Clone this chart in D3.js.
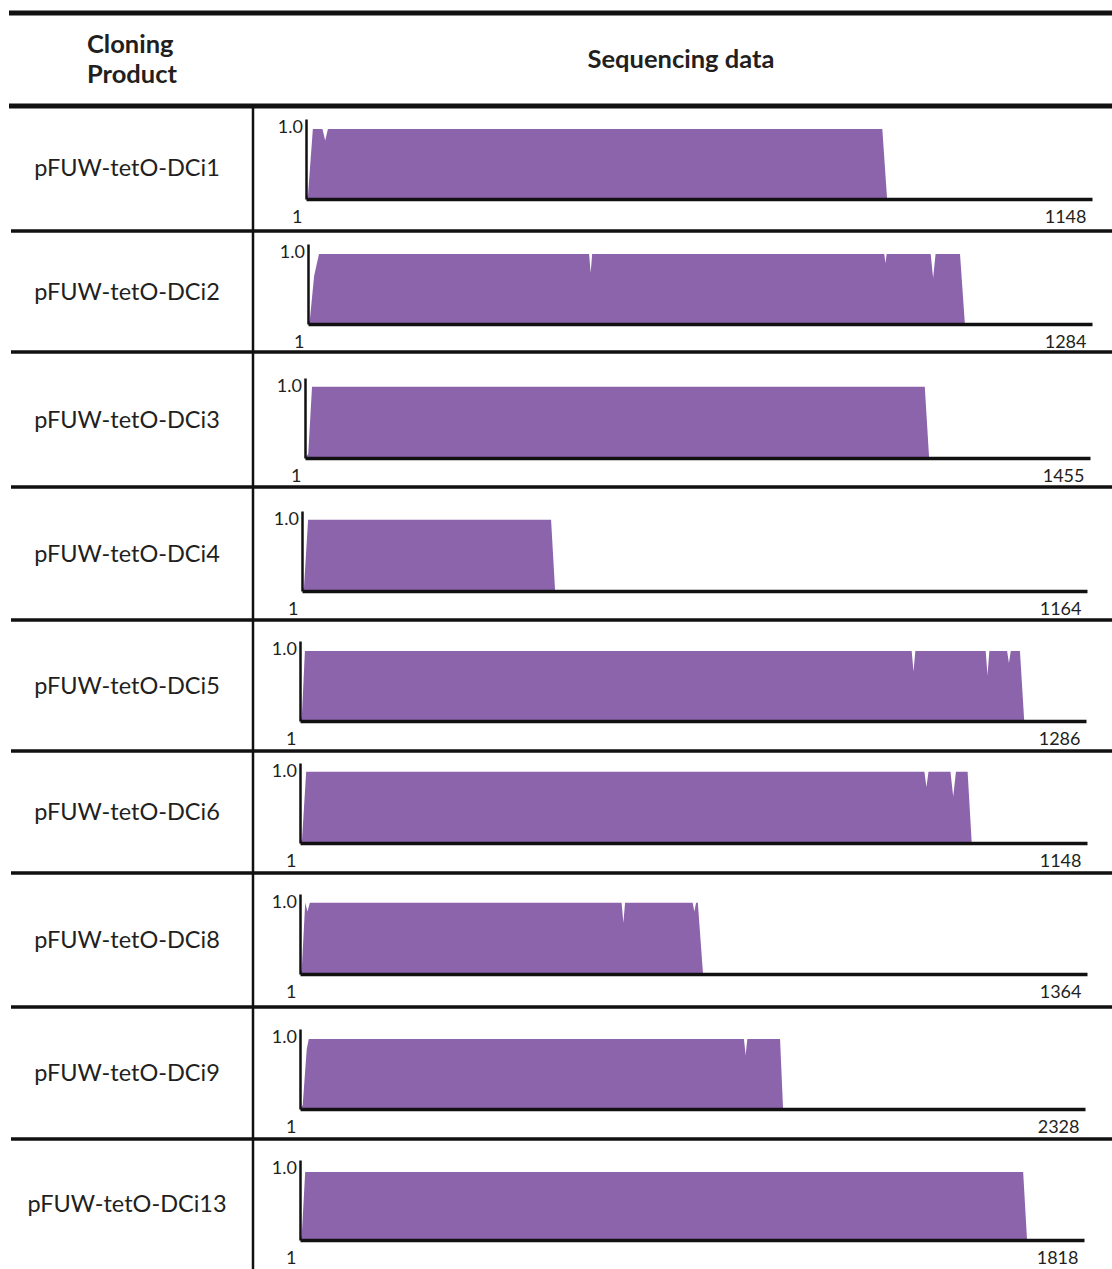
<!DOCTYPE html>
<html>
<head>
<meta charset="utf-8">
<script src="https://cdn.jsdelivr.net/npm/d3@7"></script>
<style>
  body { margin: 0; background: #fff; }
  text { font-family: Lato, "Open Sans", sans-serif; fill: #231f20; }
  .hdr { font-weight: 700; font-size: 25.5px; }
  .lbl { font-size: 23.5px; }
</style>
</head>
<body>
<svg id="chart"></svg>
<script>
// cloning products and sequence lengths
const products = ['pFUW-tetO-DCi1', 'pFUW-tetO-DCi2', 'pFUW-tetO-DCi3', 'pFUW-tetO-DCi4',
  'pFUW-tetO-DCi5', 'pFUW-tetO-DCi6', 'pFUW-tetO-DCi8', 'pFUW-tetO-DCi9', 'pFUW-tetO-DCi13'];
const seqLengths = [1148, 1284, 1455, 1164, 1286, 1148, 1364, 2328, 1818];

// coverage profiles: [position, value]
const covDCi1 = [[1,0],[4,0.06],[11,0.875],[25,0.875],[29,0.73],[33,0.875],[842,0.875],[849,0]];
const covDCi2 = [[1,0],[4,0.05],[11,0.6],[19,0.875],[461,0.875],[463.6,0.64],[466,0.875],[944,0.875],
  [946,0.76],[948,0.875],[1020,0.875],[1024,0.575],[1028,0.875],[1068,0.875],[1076,0]];
const covDCi3 = [[1,0],[7,0.05],[14,0.89],[1149,0.89],[1157,0]];
const covDCi4 = [[1,0],[4,0.05],[10,0.89],[370,0.89],[376,0]];
const covDCi5 = [[1,0],[4,0.05],[9,0.875],[1001,0.875],[1004,0.62],[1007,0.875],[1122,0.875],[1125,0.575],
  [1128,0.875],[1157,0.875],[1160,0.725],[1163,0.875],[1178,0.875],[1185,0]];
const covDCi6 = [[1,0],[4,0.05],[10,0.89],[911,0.89],[914,0.7],[917,0.89],[949,0.89],[953,0.58],
  [957,0.89],[974,0.89],[980,0]];
const covDCi8 = [[1,0],[4,0.05],[10,0.89],[14,0.78],[18,0.89],[558,0.89],[561,0.64],[564,0.89],
  [681,0.89],[684,0.78],[687,0.89],[690,0.89],[699,0]];
const covDCi9 = [[1,0],[9,0.05],[21,0.75],[27,0.875],[1317,0.875],[1322,0.675],[1327,0.875],[1424,0.875],[1433,0]];
const covDCi13 = [[1,0],[5,0.05],[13,0.85],[1677,0.85],[1686,0]];
const coverage = [covDCi1, covDCi2, covDCi3, covDCi4, covDCi5, covDCi6, covDCi8, covDCi9, covDCi13];

const yTicks = [1.0];

// layout
const W = 1112, H = 1269;
const rowTops = [105, 231, 352, 487, 620, 751, 873, 1007, 1139];
const axisX = [306, 308, 305, 302, 300, 300, 300, 300, 300];
const axisEnd = [1092, 1092, 1090, 1087, 1086, 1087, 1087, 1085, 1084];
const baselines = [199, 324, 458, 591, 721, 843, 974, 1109, 1240];
const axisH = 80;
const colX = 253;
const fillColor = '#8c64ac';

const svg = d3.select('#chart')
    .attr('width', W)
    .attr('height', H);

// table rules
svg.append('line').attr('x1', 9).attr('x2', W).attr('y1', 13).attr('y2', 13)
    .attr('stroke', '#111').attr('stroke-width', 5);
svg.append('line').attr('x1', 9).attr('x2', W).attr('y1', 106).attr('y2', 106)
    .attr('stroke', '#111').attr('stroke-width', 5);
svg.append('line').attr('x1', colX).attr('x2', colX).attr('y1', 106).attr('y2', H)
    .attr('stroke', '#111').attr('stroke-width', 2.5);
svg.selectAll('.sep')
    .data(rowTops.slice(1))
    .join('line')
        .attr('class', 'sep')
        .attr('x1', 11).attr('x2', W)
        .attr('y1', d => d).attr('y2', d => d)
        .attr('stroke', '#111').attr('stroke-width', 3.5);

// header
svg.append('text').attr('class', 'hdr').attr('x', 87).attr('y', 53).text('Cloning');
svg.append('text').attr('class', 'hdr').attr('x', 87).attr('y', 83).text('Product');
svg.append('text').attr('class', 'hdr').attr('x', 681).attr('y', 68)
    .attr('text-anchor', 'middle').text('Sequencing data');

products.forEach((name, i) => {
    const top = rowTops[i];
    const bottom = i < rowTops.length - 1 ? rowTops[i + 1] : H;

    svg.append('text')
        .attr('class', 'lbl')
        .attr('x', 127)
        .attr('y', (top + bottom) / 2 + 8)
        .attr('text-anchor', 'middle')
        .text(name);

    const x = d3.scaleLinear().domain([1, seqLengths[i]]).range([axisX[i], axisEnd[i]]);
    const y = d3.scaleLinear().domain([0, 1]).range([baselines[i], baselines[i] - axisH]);

    const g = svg.append('g');

    const area = d3.area()
        .x(d => x(d[0]))
        .y0(y(0))
        .y1(d => y(d[1]));

    g.append('path')
        .datum(coverage[i])
        .attr('d', area)
        .attr('fill', fillColor);

    const yAxisG = g.append('g')
        .attr('transform', `translate(${axisX[i]},0)`)
        .call(d3.axisLeft(y).tickValues(yTicks).tickSize(0).tickSizeOuter(0)
            .tickPadding(3).tickFormat(d3.format('.1f')));
    yAxisG.select('.domain').attr('stroke', '#111').attr('stroke-width', 2.5);
    yAxisG.selectAll('text').attr('dy', '0.75em');

    const xAxisG = g.append('g')
        .attr('transform', `translate(0,${baselines[i]})`)
        .call(d3.axisBottom(x).tickValues([1, seqLengths[i]]).tickSize(0).tickSizeOuter(0)
            .tickPadding(11).tickFormat(d3.format('d')));
    xAxisG.select('.domain').attr('stroke', '#111').attr('stroke-width', 3.5);
    xAxisG.selectAll('text')
        .attr('text-anchor', 'end')
        .attr('dx', (d, k) => k === 0 ? -4 : -6);

    g.selectAll('.tick text')
        .attr('fill', '#231f20')
        .style('font-family', 'Lato, "Open Sans", sans-serif')
        .style('font-size', '18px');
});
</script>
</body>
</html>
